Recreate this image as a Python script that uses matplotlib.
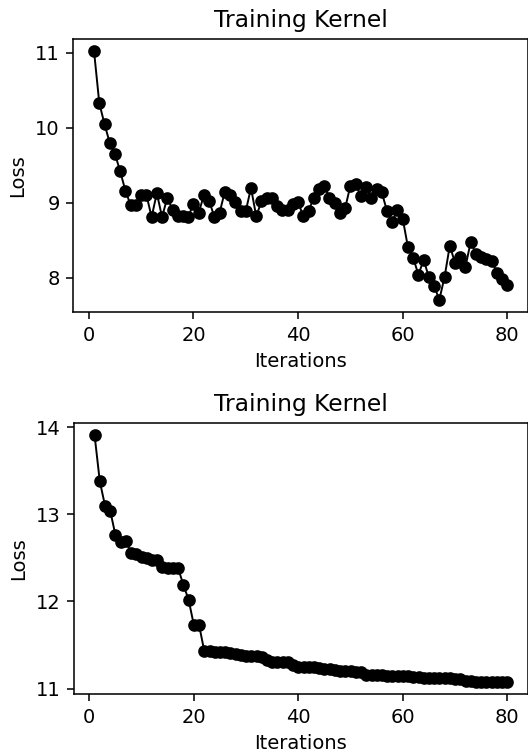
import numpy as np
import matplotlib
matplotlib.use("Agg")
import matplotlib.pyplot as plt

# Loss per iteration
iterations = np.arange(1, 81)

loss_top = [11.02, 10.33, 10.05, 9.80, 9.65, 9.42, 9.16, 8.97, 8.97, 9.11,
            9.11, 8.81, 9.13, 8.81, 9.07, 8.91, 8.82, 8.82, 8.81, 8.99,
            8.87, 9.10, 9.03, 8.81, 8.87, 9.15, 9.11, 9.01, 8.89, 8.89,
            9.20, 8.82, 9.02, 9.07, 9.07, 8.96, 8.91, 8.90, 8.98, 9.01,
            8.82, 8.89, 9.07, 9.18, 9.22, 9.07, 9.00, 8.87, 8.93, 9.23,
            9.25, 9.09, 9.21, 9.07, 9.19, 9.14, 8.89, 8.75, 8.91, 8.79,
            8.41, 8.27, 8.04, 8.24, 8.01, 7.89, 7.71, 8.01, 8.43, 8.20,
            8.28, 8.15, 8.48, 8.32, 8.28, 8.25, 8.23, 8.07, 7.98, 7.91]

loss_bottom = [13.91, 13.38, 13.10, 13.04, 12.76, 12.68, 12.69, 12.56, 12.55, 12.51,
               12.50, 12.48, 12.48, 12.39, 12.38, 12.38, 12.38, 12.19, 12.02, 11.73,
               11.73, 11.43, 11.43, 11.42, 11.42, 11.42, 11.41, 11.40, 11.39, 11.38,
               11.37, 11.37, 11.36, 11.33, 11.31, 11.31, 11.31, 11.30, 11.27, 11.25,
               11.25, 11.25, 11.25, 11.24, 11.23, 11.22, 11.21, 11.20, 11.20, 11.20,
               11.19, 11.19, 11.16, 11.16, 11.16, 11.16, 11.15, 11.15, 11.15, 11.14,
               11.14, 11.13, 11.13, 11.12, 11.12, 11.12, 11.12, 11.12, 11.12, 11.11,
               11.11, 11.09, 11.09, 11.08, 11.08, 11.08, 11.08, 11.08, 11.08, 11.08]

fig = plt.figure(figsize=(528 / 140, 754 / 140), dpi=140)

# axes placed by hand to match the cropped reference (right spine falls off the edge)
ax1 = fig.add_axes([0.139, 0.5862, 0.861, 0.3621])
ax2 = fig.add_axes([0.140, 0.0796, 0.860, 0.3598])

for ax, loss in [(ax1, loss_top), (ax2, loss_bottom)]:
    ax.plot(iterations, loss, "ko-", linewidth=1.0, markersize=5.5)
    ax.set_title("Training Kernel")
    ax.set_xlabel("Iterations")
    ax.set_ylabel("Loss")

fig.savefig("out.png", dpi=140)
